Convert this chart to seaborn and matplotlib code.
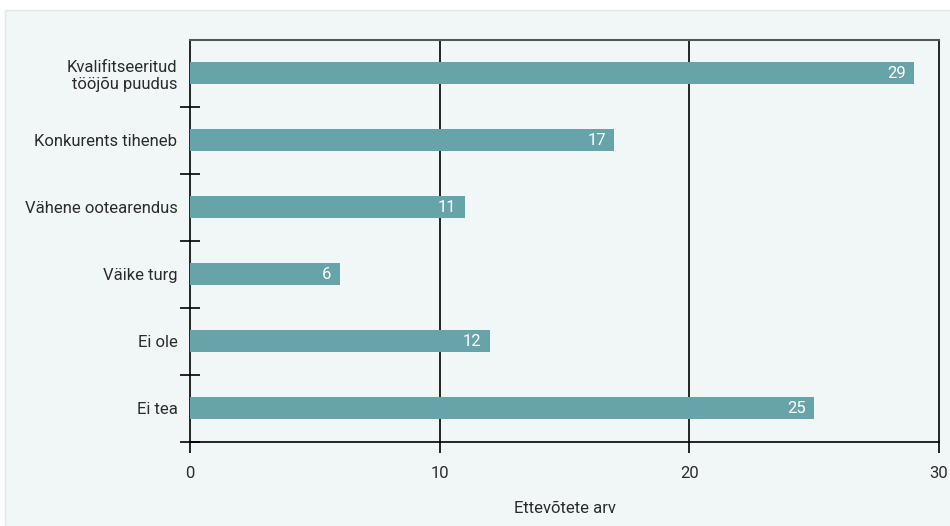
import matplotlib
matplotlib.use("Agg")
import matplotlib.pyplot as plt
import seaborn as sns
import pandas as pd
from matplotlib.patches import Rectangle

categories = ["Kvalifitseeritud\ntööjõu puudus", "Konkurents tiheneb", "Vähene ootearendus",
              "Väike turg", "Ei ole", "Ei tea"]
values = [29, 17, 11, 6, 12, 25]
xticks = [0, 10, 20, 30]
xlabel = "Ettevõtete arv"

sns.set_theme(style="white")
plt.rcParams['font.family'] = ['Roboto', 'DejaVu Sans']

bg = "#f1f6f6"
bar_color = "#67a4aa"
txt = "#2b2b2b"

fig = plt.figure(figsize=(9.5, 5.26), dpi=100, facecolor="white")
# panel
fig.patches.append(Rectangle((5/950, 0), 1, 1 - 10/526, transform=fig.transFigure,
                             facecolor=bg, edgecolor="#e4e8e8", lw=1, zorder=-5))
ax = fig.add_axes([190/950, 1 - 441.5/526, (939 - 190)/950, (441.5 - 40)/526])
ax.set_facecolor(bg)

df = pd.DataFrame({"cat": categories, "val": values})
sns.barplot(data=df, x="val", y="cat", color=bar_color, width=0.33, saturation=1,
            linewidth=0, edgecolor="none", ax=ax, zorder=3)

for c in ax.containers:
    labels = ax.bar_label(c, padding=-6, color="white", fontsize=12)
    for t in labels:
        t.set_ha("right")

ax.set_xlim(0, 30)
ax.set_ylim(5.5, -0.5)
ax.set_xticks(xticks)
ax.set_xticklabels([str(v) for v in xticks], fontsize=12, color=txt)
ax.tick_params(axis="x", bottom=True, direction="out", length=8, width=1.2, color="black", pad=10)
ax.set_yticks(range(len(categories)))
ax.set_yticklabels(categories, fontsize=12, color=txt, linespacing=1.15)
ax.tick_params(axis="y", which="major", left=False, length=0, pad=9)
ax.set_yticks([i + 0.5 for i in range(len(categories))], minor=True)
ax.tick_params(axis="y", which="minor", left=True, direction="inout", length=15, width=1.2, color="black")
ax.set_xlabel(xlabel, fontsize=12, color=txt, labelpad=14)
ax.set_ylabel("")

for x in [10, 20]:
    ax.axvline(x, color="black", lw=1.2, zorder=2)
for s in ["left", "bottom", "right"]:
    ax.spines[s].set_color("black")
    ax.spines[s].set_linewidth(1.2)
ax.spines["top"].set_color("#555555")
ax.spines["top"].set_linewidth(1.5)

fig.savefig("out.png", dpi=100, facecolor="white")
